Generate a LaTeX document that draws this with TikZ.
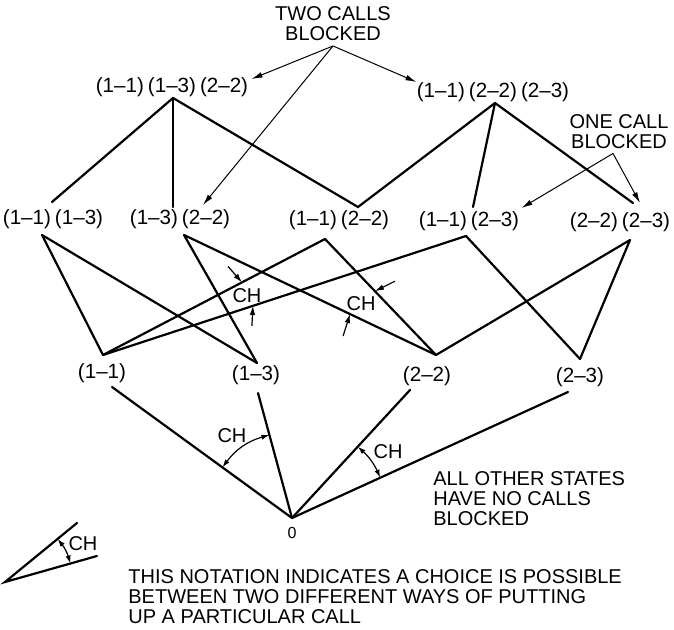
\documentclass[tikz,border=0pt]{standalone}
\usepackage{fontspec}
\setmainfont{Liberation Sans}
\usetikzlibrary{arrows.meta,calc}
\newcommand{\gp}{\hspace{2pt}}

\begin{document}
\begin{tikzpicture}[
  x=0.5pt, y=-0.5pt,
  state/.style={inner sep=0pt, font=\fontsize{10.3}{10}\selectfont},
  remark/.style={inner sep=0pt, font=\fontsize{10}{10}\selectfont, align=center},
  chlabel/.style={inner sep=0pt, font=\fontsize{10}{10}\selectfont},
  edge/.style={line width=1.1pt, line cap=round},
  pointer/.style={line width=0.5pt, -{Latex[length=5.5pt,width=2.8pt]}},
  chmark/.style={line width=0.6pt, -{Latex[length=4.5pt,width=2.8pt]}},
  choice/.style={line width=0.6pt, {Latex[length=4pt,width=2.6pt]}-{Latex[length=4pt,width=2.6pt]}}
]
  \useasboundingbox (0,0) rectangle (674,630);

  % --- States: two calls up ---
  \node[state] (top1) at (172,87) {(1--1)\gp(1--3)\gp(2--2)};
  \node[state] (top2) at (493,92) {(1--1)\gp(2--2)\gp(2--3)};

  % --- States: one call up ---
  \node[state] (mid1) at (53,219)  {(1--1)\gp(1--3)};
  \node[state] (mid2) at (180,219) {(1--3)\gp(2--2)};
  \node[state] (mid3) at (339,220) {(1--1)\gp(2--2)};
  \node[state] (mid4) at (469,221) {(1--1)\gp(2--3)};
  \node[state] (mid5) at (620,222) {(2--2)\gp(2--3)};

  % --- States: single call ---
  \node[state] (low1) at (102,373) {(1--1)};
  \node[state] (low2) at (256,375) {(1--3)};
  \node[state] (low3) at (427,376) {(2--2)};
  \node[state] (low4) at (580,377) {(2--3)};
  \node[state, font=\fontsize{8}{8}\selectfont] (zerolbl) at (292,533) {0};

  % vertices where the lines meet
  \coordinate (top1v) at (173,98);
  \coordinate (top2v) at (495,103);
  \coordinate (mid1u) at (52,202);
  \coordinate (mid2u) at (173,207);
  \coordinate (mid3u) at (358,207);
  \coordinate (mid4u) at (473,207);
  \coordinate (mid5u) at (633,203);
  \coordinate (mid1d) at (42,235);
  \coordinate (mid2d) at (184,235);
  \coordinate (mid3d) at (325,239);
  \coordinate (mid4d) at (466,236);
  \coordinate (mid5d) at (630,240);
  \coordinate (low1u) at (103,355);
  \coordinate (low2u) at (257,363);
  \coordinate (low3u) at (436,355);
  \coordinate (low4u) at (580,359);
  \coordinate (low1d) at (112,387);
  \coordinate (low2d) at (258,393);
  \coordinate (low3d) at (410,390);
  \coordinate (low4d) at (568,392);
  \coordinate (o) at (292,518);

  % Transitions
  \draw[edge] (top1v) -- (mid1u);
  \draw[edge] (top1v) -- (mid2u);
  \draw[edge] (top1v) -- (mid3u) -- (top2v);
  \draw[edge] (top2v) -- (mid4u);
  \draw[edge] (top2v) -- (mid5u);

  \draw[edge] (mid1d) -- (low1u);
  \draw[edge] (mid1d) -- (low2u);
  \draw[edge] (mid2d) -- (low2u);
  \draw[edge] (mid2d) -- (low3u);
  \draw[edge] (mid3d) -- (low1u);
  \draw[edge] (mid3d) -- (low3u);
  \draw[edge] (mid4d) -- (low1u);
  \draw[edge] (mid4d) -- (low4u);
  \draw[edge] (mid5d) -- (low3u);
  \draw[edge] (mid5d) -- (low4u);

  \draw[edge] (o) -- (low1d);
  \draw[edge] (o) -- (low2d);
  \draw[edge] (o) -- (low3d);
  \draw[edge] (o) -- (low4d);

  % --- Callouts ---
  \node[remark] (two) at (333,23.5) {TWO CALLS\\BLOCKED};
  \coordinate (twofoot) at ($(two.south)+(0,5)$);
  \coordinate (twotip) at (203,205);
  \draw[pointer] (twofoot) -- ($(top1.north east)+(3,2)$);
  \draw[pointer] (twofoot) -- (top2.north west);
  \draw[pointer] (twofoot) -- (twotip);

  \node[remark] (one) at (619,132) {ONE CALL\\BLOCKED};
  \coordinate (onefoot) at ($(one.south)+(-6,4)$);
  \coordinate (onetip) at (640,203);
  \draw[pointer] (onefoot) -- ($(mid4.north east)+(2,-3)$);
  \draw[pointer] (onefoot) -- (onetip);

  \node[remark, align=left, anchor=west] (other) at (433,498.5)
    {ALL OTHER STATES\\HAVE NO CALLS\\BLOCKED};

  % CH marks between crossing lines
  \coordinate (p1) at ($(mid3d)!0.374!(low1u)$);
  \coordinate (p2) at ($(mid4d)!0.587!(low1u)$);
  \coordinate (p3) at ($(mid3d)!0.45!(low3u)$);
  \coordinate (p4) at ($(mid2d)!0.659!(low3u)$);
  \node[chlabel] (ch1) at (247,296) {CH};
  \node[chlabel] (ch2) at (361,304) {CH};
  \draw[chmark] ($(p1)+(-14,-16)$) -- (p1);
  \draw[chmark] ($(p2)+(-1,20)$) -- (p2);
  \draw[chmark] ($(p3)+(20,-10)$) -- (p3);
  \draw[chmark] ($(p4)+(-7,22)$) -- (p4);

  % CH arcs at the origin
  \coordinate (r1) at ($(o)!43pt!(low1d)$);
  \coordinate (r2) at ($(o)!43pt!(low2d)$);
  \coordinate (r3) at ($(o)!48.5pt!(low3d)$);
  \coordinate (r4) at ($(o)!48.5pt!(low4d)$);
  \draw[choice] (r1) to[bend left=19] (r2);
  \draw[choice] (r3) to[bend left=12] (r4);
  \node[chlabel] (ch3) at (232,436) {CH};
  \node[chlabel] (ch4) at (388,452) {CH};

  % --- Legend ---
  \coordinate (lg0) at (5,582);
  \coordinate (lg1) at (77,523);
  \coordinate (lg2) at (97,556);
  \draw[edge] (lg1) -- (lg0) -- (lg2);
  \draw[choice] ($(lg0)!34pt!(lg1)$) to[bend left=11] ($(lg0)!34pt!(lg2)$);
  \node[chlabel] (ch5) at (83,544) {CH};

  \node[remark, align=left, anchor=west] (legend) at (128,596.5)
    {THIS NOTATION INDICATES A CHOICE IS POSSIBLE\\BETWEEN TWO DIFFERENT WAYS OF PUTTING\\UP A PARTICULAR CALL};

\end{tikzpicture}
\end{document}
